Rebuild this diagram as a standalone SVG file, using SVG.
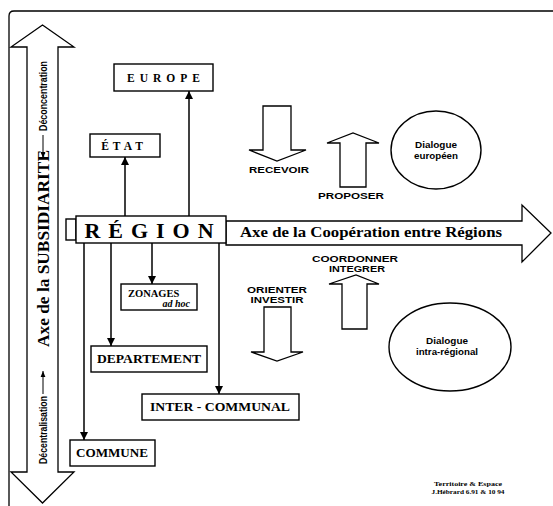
<svg xmlns="http://www.w3.org/2000/svg" width="553" height="506" viewBox="0 0 553 506">
<style>
.box{fill:#fff;stroke:#000;stroke-width:1.4}
.big{fill:#fff;stroke:#000;stroke-width:1.3;stroke-linejoin:miter}
.conn{fill:none;stroke:#000;stroke-width:1.5}
.serif{font-family:"Liberation Serif","Times New Roman",serif;font-weight:bold;fill:#000}
.sans{font-family:"Liberation Sans",Arial,sans-serif;font-weight:bold;fill:#000}
</style>
<defs>
<marker id="ah" viewBox="0 0 10 10" refX="10" refY="5" markerWidth="8" markerHeight="8" markerUnits="userSpaceOnUse" orient="auto">
<path d="M0,0 L10,5 L0,10 z" fill="#000"/>
</marker>
<marker id="sa" viewBox="0 0 10 10" refX="10" refY="5" markerWidth="6" markerHeight="6" markerUnits="userSpaceOnUse" orient="auto">
<path d="M0,1 L10,5 L0,9 z" fill="#000"/>
</marker>
</defs>
<rect width="553" height="506" fill="#fff"/>
<path d="M9,506 V16 Q9,11 14,11 H553" fill="none" stroke="#000" stroke-width="1.3"/>

<g id="axe-subsidiarite">
<path class="big" d="M42.5,25 L74,47 H58 V472 H74 L42.5,503 L11,472 H27 V47 H11 Z"/>
<text class="sans" font-size="10.5" transform="translate(46.5,131) rotate(-90)" textLength="70" lengthAdjust="spacingAndGlyphs">Déconcentration</text>
<line x1="43" y1="135" x2="43" y2="158" stroke="#000" stroke-width="1" marker-end="url(#sa)"/>
<text class="serif" font-size="17" transform="translate(48.5,347) rotate(-90)" textLength="197" lengthAdjust="spacingAndGlyphs">Axe de la SUBSIDIARITE</text>
<line x1="43" y1="394" x2="43" y2="371" stroke="#000" stroke-width="1" marker-end="url(#sa)"/>
<text class="sans" font-size="10.5" transform="translate(46.5,464) rotate(-90)" textLength="68" lengthAdjust="spacingAndGlyphs">Décentralisation</text>
</g>

<g id="axe-cooperation">
<path class="big" d="M226,221 H522 V205 L551,233 L522,262 V245 H226 Z"/>
<text class="serif" font-size="14" x="240" y="237" textLength="262" lengthAdjust="spacingAndGlyphs">Axe de la Coopération entre Régions</text>
</g>

<g id="region">
<rect class="box" x="66" y="219" width="10" height="21" stroke-width="1"/>
<rect class="box" x="76" y="216" width="150" height="27"/>
<text class="serif" font-size="22" x="153" y="238" text-anchor="middle" letter-spacing="8">RÉGION</text>
</g>

<g id="europe">
<rect class="box" x="114" y="64" width="99" height="27"/>
<text class="serif" font-size="11.5" x="166" y="82" text-anchor="middle" letter-spacing="5">EUROPE</text>
</g>

<g id="etat">
<rect class="box" x="90" y="134" width="70" height="23"/>
<text class="serif" font-size="11.5" x="124" y="150" text-anchor="middle" letter-spacing="4">ÉTAT</text>
</g>

<g id="zonages">
<rect class="box" x="121" y="284" width="76" height="26"/>
<text class="serif" font-size="10.5" x="128" y="297">ZONAGES</text>
<text class="serif" font-size="10" font-style="italic" x="190" y="307" text-anchor="end">ad hoc</text>
</g>

<g id="departement">
<rect class="box" x="91" y="346" width="116" height="26"/>
<text class="serif" font-size="12" x="149" y="363" text-anchor="middle" textLength="104" lengthAdjust="spacingAndGlyphs">DEPARTEMENT</text>
</g>

<g id="intercommunal">
<rect class="box" x="142" y="394" width="157" height="26"/>
<text class="serif" font-size="12.5" x="220" y="411" text-anchor="middle" textLength="140" lengthAdjust="spacingAndGlyphs">INTER - COMMUNAL</text>
</g>

<g id="commune">
<rect class="box" x="70" y="440" width="85" height="26"/>
<text class="serif" font-size="12" x="112" y="457" text-anchor="middle" textLength="72" lengthAdjust="spacingAndGlyphs">COMMUNE</text>
</g>

<g id="recevoir">
<path class="big" d="M263,106 H291 V150 H306 L277,161 L249,150 H263 Z"/>
<text class="sans" font-size="9" x="279" y="173" text-anchor="middle" textLength="60" lengthAdjust="spacingAndGlyphs">RECEVOIR</text>
</g>

<g id="proposer">
<path class="big" d="M340,187 V143 H327 L353,133 L379,143 H366 V187 Z"/>
<text class="sans" font-size="9" x="351" y="199" text-anchor="middle" textLength="66" lengthAdjust="spacingAndGlyphs">PROPOSER</text>
</g>

<g id="coordonner">
<path class="big" d="M342,329 V284 H329 L356,275 L379,284 H367 V329 Z"/>
<text class="sans" font-size="9" x="355" y="262" text-anchor="middle" textLength="86" lengthAdjust="spacingAndGlyphs">COORDONNER</text>
<text class="sans" font-size="9" x="357" y="272" text-anchor="middle" textLength="56" lengthAdjust="spacingAndGlyphs">INTEGRER</text>
</g>

<g id="orienter">
<path class="big" d="M264,307 H291 V352 H303 L277,361 L251,352 H264 Z"/>
<text class="sans" font-size="9" x="277" y="293" text-anchor="middle" textLength="60" lengthAdjust="spacingAndGlyphs">ORIENTER</text>
<text class="sans" font-size="9" x="277" y="303" text-anchor="middle" textLength="53" lengthAdjust="spacingAndGlyphs">INVESTIR</text>
</g>

<g id="dialogue-europeen">
<ellipse class="box" cx="436" cy="150" rx="45" ry="39" stroke-width="1.2"/>
<text class="sans" font-size="8.5" x="436" y="148" text-anchor="middle" textLength="42" lengthAdjust="spacingAndGlyphs">Dialogue</text>
<text class="sans" font-size="8.5" x="436" y="159" text-anchor="middle" textLength="44" lengthAdjust="spacingAndGlyphs">européen</text>
</g>

<g id="dialogue-intra">
<ellipse class="box" cx="450" cy="347" rx="61" ry="44" stroke-width="1.2"/>
<text class="sans" font-size="8.5" x="447" y="344" text-anchor="middle" textLength="42" lengthAdjust="spacingAndGlyphs">Dialogue</text>
<text class="sans" font-size="8.5" x="447" y="355" text-anchor="middle" textLength="62" lengthAdjust="spacingAndGlyphs">intra-régional</text>
</g>

<g id="credit">
<text class="serif" font-size="7" x="468" y="486" text-anchor="middle" textLength="68" lengthAdjust="spacingAndGlyphs">Territoire &amp; Espace</text>
<text class="serif" font-size="6.5" x="468" y="494" text-anchor="middle" textLength="73" lengthAdjust="spacingAndGlyphs">J.Hébrard 6.91 &amp; 10 94</text>
</g>

<g id="connectors">
<line class="conn" x1="125" y1="216" x2="125" y2="157" marker-end="url(#ah)"/>
<line class="conn" x1="189" y1="216" x2="189" y2="91" marker-end="url(#ah)"/>
<line class="conn" x1="84" y1="243" x2="84" y2="440" marker-end="url(#ah)"/>
<line class="conn" x1="111" y1="243" x2="111" y2="346" marker-end="url(#ah)"/>
<line class="conn" x1="152" y1="243" x2="152" y2="284" marker-end="url(#ah)"/>
<line class="conn" x1="219" y1="243" x2="219" y2="394" marker-end="url(#ah)"/>
</g>
</svg>
